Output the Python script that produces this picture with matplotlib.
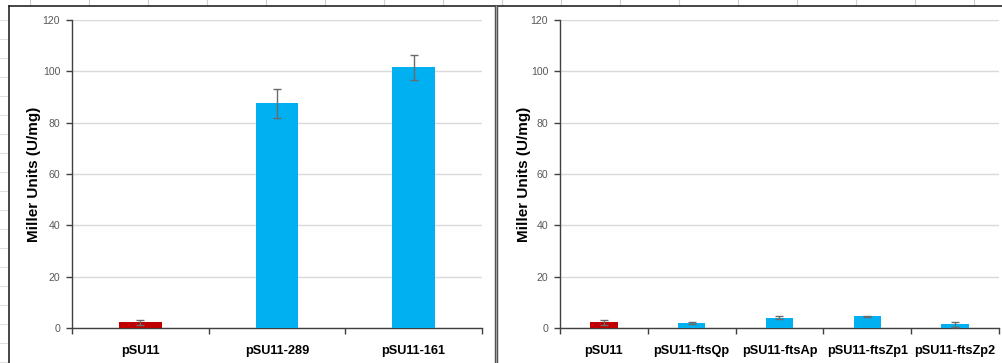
import matplotlib
matplotlib.use("Agg")
import matplotlib.pyplot as plt
from matplotlib.lines import Line2D
import numpy as np

# Data
left_categories = ["pSU11", "pSU11-289", "pSU11-161"]
left_values = [2.2, 87.5, 101.5]
left_errors = [1.0, 5.6, 5.0]

right_categories = ["pSU11", "pSU11-ftsQp", "pSU11-ftsAp", "pSU11-ftsZp1", "pSU11-ftsZp2"]
right_values = [2.2, 2.0, 4.0, 4.5, 1.5]
right_errors = [1.0, 0.4, 0.6, 0.3, 1.0]

y_ticks = [0, 20, 40, 60, 80, 100, 120]
y_label = "Miller Units (U/mg)"

RED = "#C00000"
BLUE = "#00B0F0"

W, H = 1003, 363
fig = plt.figure(figsize=(W / 100, H / 100), dpi=100)
fig.patch.set_facecolor("white")


def fx(px):
    return px / W


def fy(py):
    return 1 - py / H


def draw_panel(ax, cats, vals, errs, label_x):
    n = len(cats)
    x = np.arange(n)
    colors = [RED] + [BLUE] * (n - 1)
    ax.bar(x, vals, width=0.31, color=colors, zorder=3)
    ax.errorbar(x, vals, yerr=errs, fmt="none", ecolor="#6b6b6b",
                elinewidth=1.0, capsize=3, capthick=1.0, zorder=4)
    ax.set_xlim(-0.5, n - 0.5)
    ax.set_ylim(0, 120)
    ax.set_yticks(y_ticks)
    ax.set_yticklabels([str(t) for t in y_ticks], fontsize=7.6,
                       color="#595959", family="Liberation Sans")
    ax.set_xticks(x)
    ax.set_xticklabels(cats, fontsize=9.2, fontweight="bold",
                       family="Liberation Sans")
    ax.tick_params(axis="x", length=0, pad=12)
    ax.set_xticks(np.arange(n + 1) - 0.5, minor=True)
    ax.tick_params(axis="x", which="minor", length=4, color="#404040", width=1)
    ax.tick_params(axis="y", length=4, color="#404040", width=1, pad=4.5)
    ax.grid(axis="y", color="#d9d9d9", linewidth=1, zorder=0)
    for s in ["top", "right"]:
        ax.spines[s].set_visible(False)
    for s in ["left", "bottom"]:
        ax.spines[s].set_color("#404040")
        ax.spines[s].set_linewidth(1.0)
    ax.set_ylabel(y_label, fontsize=11, fontweight="bold",
                  family="Liberation Sans")
    ax.yaxis.set_label_coords(label_x, 0.5)


ax1 = fig.add_axes([fx(72), fy(328), fx(482 - 72), fy(20) - fy(328)])
draw_panel(ax1, left_categories, left_values, left_errors, (41 - 72) / 410)

ax2 = fig.add_axes([fx(560), fy(328), fx(999 - 560), fy(20) - fy(328)])
draw_panel(ax2, right_categories, right_values, right_errors, (531 - 560) / 439)

# Excel-sheet gridline hints at edges
for xp in range(30, W, 59):
    fig.add_artist(Line2D([fx(xp), fx(xp)], [fy(0), fy(5)], color="#d0d0d0", lw=0.8))
for yp in range(20, H, 19):
    fig.add_artist(Line2D([fx(0), fx(8)], [fy(yp), fy(yp)], color="#e0e0e0", lw=0.8))

# Chart borders
border = "#262626"
fig.add_artist(Line2D([fx(9), fx(9)], [fy(6), fy(H)], color=border, lw=1.2))
fig.add_artist(Line2D([fx(9), fx(W)], [fy(6), fy(6)], color=border, lw=1.2))
fig.add_artist(Line2D([fx(495.5), fx(495.5)], [fy(6), fy(H)], color="#404040", lw=1.0))
fig.add_artist(Line2D([fx(497.5), fx(497.5)], [fy(6), fy(H)], color="#404040", lw=1.0))
fig.add_artist(Line2D([fx(496.5), fx(496.5)], [fy(6), fy(H)], color="#a0a0a0", lw=1.0))

fig.savefig("out.png", dpi=100, facecolor="white")
